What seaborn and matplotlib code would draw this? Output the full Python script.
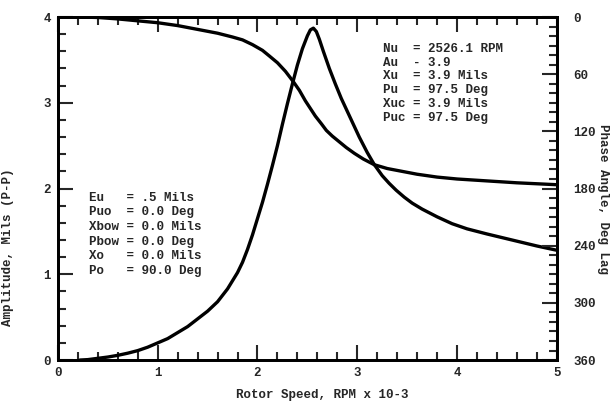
import matplotlib
matplotlib.use("Agg")
import matplotlib.pyplot as plt
import seaborn as sns
from matplotlib.ticker import MultipleLocator

# amplitude response (rotor speed in RPM x 10^-3, amplitude in mils p-p)
speed_amp = [0.22, 0.3, 0.4, 0.5, 0.6, 0.7, 0.8, 0.9, 1.0, 1.1, 1.2, 1.3, 1.4, 1.5, 1.6,
             1.7, 1.8, 1.85, 1.9, 1.95, 2.0, 2.05, 2.1, 2.15, 2.2, 2.25, 2.3, 2.35, 2.4,
             2.45, 2.5, 2.53, 2.56, 2.59, 2.62, 2.66, 2.72, 2.78, 2.84, 2.9, 2.96, 3.02,
             3.1, 3.17, 3.25, 3.32, 3.39, 3.47, 3.55, 3.65, 3.8, 3.95, 4.1, 4.3, 4.55,
             4.8, 5.0]
amplitude = [0.0, 0.005, 0.02, 0.035, 0.055, 0.08, 0.11, 0.15, 0.2, 0.25, 0.32, 0.39, 0.48,
             0.57, 0.68, 0.83, 1.02, 1.14, 1.29, 1.46, 1.65, 1.84, 2.05, 2.27, 2.5, 2.75,
             2.99, 3.22, 3.44, 3.63, 3.78, 3.85, 3.87, 3.83, 3.74, 3.6, 3.4, 3.22, 3.05,
             2.9, 2.75, 2.6, 2.42, 2.28, 2.15, 2.06, 1.98, 1.9, 1.83, 1.76, 1.67, 1.59,
             1.53, 1.47, 1.40, 1.33, 1.28]

# phase response (deg lag)
speed_phase = [0.22, 0.4, 0.6, 0.8, 1.0, 1.2, 1.4, 1.6, 1.75, 1.85, 1.95, 2.05, 2.12, 2.2,
               2.28, 2.36, 2.42, 2.48, 2.53, 2.58, 2.64, 2.69, 2.75, 2.82, 2.89, 2.97,
               3.06, 3.17, 3.3, 3.45, 3.6, 3.8, 4.0, 4.3, 4.6, 5.0]
phase = [0, 0.5, 2, 4, 6, 9, 13, 17, 21, 24, 29, 35, 41, 48,
         57, 68, 77, 88, 96, 104, 112, 119, 125, 131, 137, 143,
         149, 155, 159, 162, 165, 168, 170, 172, 174, 176]

info_right = ["Nu  = 2526.1 RPM", "Au  - 3.9", "Xu  = 3.9 Mils",
              "Pu  = 97.5 Deg", "Xuc = 3.9 Mils", "Puc = 97.5 Deg"]
info_left = ["Eu   = .5 Mils", "Puo  = 0.0 Deg", "Xbow = 0.0 Mils",
             "Pbow = 0.0 Deg", "Xo   = 0.0 Mils", "Po   = 90.0 Deg"]

sns.set_style("ticks")
plt.rcParams['font.family'] = ['Liberation Mono', 'DejaVu Sans Mono']
plt.rcParams['font.weight'] = 'bold'

fig = plt.figure(figsize=(6.16, 4.05), dpi=100)
ax = fig.add_axes([0.094, 0.111, 0.81, 0.847])
ax2 = ax.twinx()

sns.lineplot(x=speed_amp, y=amplitude, ax=ax, color='black', lw=2.4, sort=False)
sns.lineplot(x=speed_phase, y=phase, ax=ax2, color='black', lw=2.4, sort=False)

ax.set_xlim(0, 5)
ax.set_ylim(0, 4)
ax2.set_ylim(360, 0)

ax.xaxis.set_major_locator(MultipleLocator(1))
ax.xaxis.set_minor_locator(MultipleLocator(0.2))
ax.yaxis.set_major_locator(MultipleLocator(1))
ax.yaxis.set_minor_locator(MultipleLocator(0.2))
ax2.yaxis.set_major_locator(MultipleLocator(60))
ax2.yaxis.set_minor_locator(MultipleLocator(10))

ax.tick_params(which='both', direction='in', top=True, right=False, width=1.5,
               labelsize=9, pad=5)
ax.tick_params(which='major', length=11)
ax.tick_params(which='minor', length=6)
ax2.tick_params(which='both', direction='in', width=1.5, labelsize=9, pad=12)
ax2.tick_params(which='major', length=11)
ax2.tick_params(which='minor', length=6)

for a in (ax, ax2):
    for sp in a.spines.values():
        sp.set_linewidth(2)
        sp.set_color('black')

ax.set_xlabel("Rotor Speed, RPM x 10-3", fontsize=9, fontweight='bold')
ax.xaxis.set_label_coords(0.53, -0.085)
ax.set_ylabel("Amplitude, Mils (P-P)", fontsize=9, fontweight='bold')
ax.yaxis.set_label_coords(-0.088, 0.33)
ax2.set_ylabel("Phase Angle, Deg Lag", fontsize=9, fontweight='bold', rotation=-90,
               va='center')
ax2.yaxis.set_label_coords(1.092, 0.47)

ax.text(0.651, 0.925, "\n".join(info_right), transform=ax.transAxes, fontsize=9,
        fontweight='bold', va='top', ha='left', linespacing=1.2)
ax.text(0.062, 0.49, "\n".join(info_left), transform=ax.transAxes, fontsize=9,
        fontweight='bold', va='top', ha='left', linespacing=1.28)

fig.savefig("out.png", dpi=100)
